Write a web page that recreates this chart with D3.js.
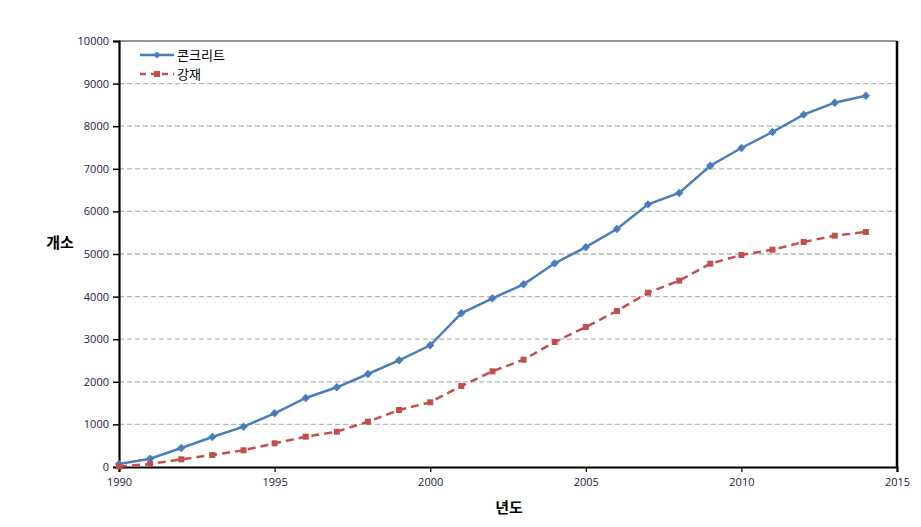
<!DOCTYPE html>
<html><head><meta charset="utf-8">
<script src="https://cdn.jsdelivr.net/npm/d3@7"></script>
<style>
html,body{margin:0;padding:0;background:#fff;}
svg{display:block;}
text{font-family:"Open Sans","Noto Sans","Noto Sans CJK KR",sans-serif;}
</style></head>
<body><svg id="chart" width="921" height="527"></svg>
<script>
const years = [1990,1991,1992,1993,1994,1995,1996,1997,1998,1999,2000,2001,2002,2003,2004,2005,2006,2007,2008,2009,2010,2011,2012,2013,2014];
const concrete = [70,195,446,704,946,1261,1620,1871,2183,2505,2857,3608,3960,4289,4781,5160,5587,6166,6432,7073,7488,7864,8271,8552,8716];
const steel = [10,70,180,282,392,556,711,829,1064,1338,1519,1901,2246,2519,2934,3286,3662,4092,4374,4773,4977,5101,5282,5430,5516];
const seriesNames = ["콘크리트","강재"];
const xTicks = [1990,1995,2000,2005,2010,2015];
const yTicks = [0,1000,2000,3000,4000,5000,6000,7000,8000,9000,10000];
const xTitle = "년도", yTitle = "개소";

const svg = d3.select("#chart");
const L = 119, R = 897, T = 41, B = 467;
const x = d3.scaleLinear().domain([1990,2015]).range([L,R]);
const y = d3.scaleLinear().domain([0,10000]).range([B,T]);

// gridlines
svg.append("g").selectAll("line").data(yTicks.filter(v=>v>0 && v<10000)).join("line")
  .attr("x1",L).attr("x2",R).attr("y1",d=>y(d)).attr("y2",d=>y(d))
  .attr("stroke","#b4b4b4").attr("stroke-width",1.3).attr("stroke-dasharray","5,3");

// frame top/right
svg.append("line").attr("x1",L).attr("x2",R).attr("y1",T).attr("y2",T).attr("stroke","#333").attr("stroke-width",1.2);
svg.append("line").attr("x1",R).attr("x2",R).attr("y1",T).attr("y2",B).attr("stroke","#000").attr("stroke-width",2.5);

// axes
const yAxis = svg.append("g").attr("transform",`translate(${L},0)`)
  .call(d3.axisLeft(y).tickValues(yTicks).tickFormat(d3.format("d")).tickSize(6).tickPadding(4));
yAxis.select(".domain").attr("stroke","#000").attr("stroke-width",2.2);
yAxis.selectAll(".tick line").attr("stroke","#000").attr("stroke-width",1.5);
yAxis.selectAll("text").attr("font-size",11).attr("fill","#1a1a40");

const xAxis = svg.append("g").attr("transform",`translate(0,${B})`)
  .call(d3.axisBottom(x).tickValues(xTicks).tickFormat(d3.format("d")).tickSize(5).tickPadding(6));
xAxis.select(".domain").attr("stroke","#000").attr("stroke-width",2.2);
xAxis.selectAll(".tick line").attr("stroke","#000").attr("stroke-width",1.2);
xAxis.selectAll("text").attr("font-size",11).attr("fill","#1a1a40");

// axis titles
svg.append("text").attr("x",60).attr("y",248).attr("text-anchor","middle")
  .attr("font-size",15).attr("font-weight","bold").attr("fill","#000").text(yTitle);
svg.append("text").attr("x",509).attr("y",513).attr("text-anchor","middle")
  .attr("font-size",15).attr("font-weight","bold").attr("fill","#000").text(xTitle);

const line = d3.line().x((d,i)=>x(years[i])).y(d=>y(d));
const blue = "#4a7ebb", red = "#c0504d";

svg.append("path").datum(concrete).attr("d",line).attr("fill","none")
  .attr("stroke",blue).attr("stroke-width",2.5);
svg.append("path").datum(steel).attr("d",line).attr("fill","none")
  .attr("stroke",red).attr("stroke-width",2.5).attr("stroke-dasharray","8,5");

const dpath = "M0,-4.2L4.2,0L0,4.2L-4.2,0Z";
svg.append("g").selectAll("path").data(concrete).join("path")
  .attr("d",dpath).attr("transform",(d,i)=>`translate(${x(years[i])},${y(d)})`).attr("fill",blue);
svg.append("g").selectAll("rect").data(steel).join("rect")
  .attr("x",(d,i)=>x(years[i])-3).attr("y",d=>y(d)-3).attr("width",6).attr("height",6).attr("fill",red);

// legend
const lg = svg.append("g");
const rows = [{name:seriesNames[0],c:blue,dash:null,y:55},{name:seriesNames[1],c:red,dash:"8,5",y:74}];
rows.forEach((r,i)=>{
  lg.append("line").attr("x1",140).attr("x2",174).attr("y1",r.y).attr("y2",r.y)
    .attr("stroke",r.c).attr("stroke-width",2.5).attr("stroke-dasharray",r.dash ? "6,5" : null);
  if(i===0){
    lg.append("path").attr("d","M0,-3.5L3.5,0L0,3.5L-3.5,0Z").attr("transform",`translate(157,${r.y})`).attr("fill",r.c);
  } else {
    lg.append("rect").attr("x",154).attr("y",r.y-3).attr("width",6).attr("height",6).attr("fill",r.c);
  }
  lg.append("text").attr("x",177).attr("y",r.y+5).attr("font-size",13).attr("fill","#000").text(r.name);
});
</script></body></html>
